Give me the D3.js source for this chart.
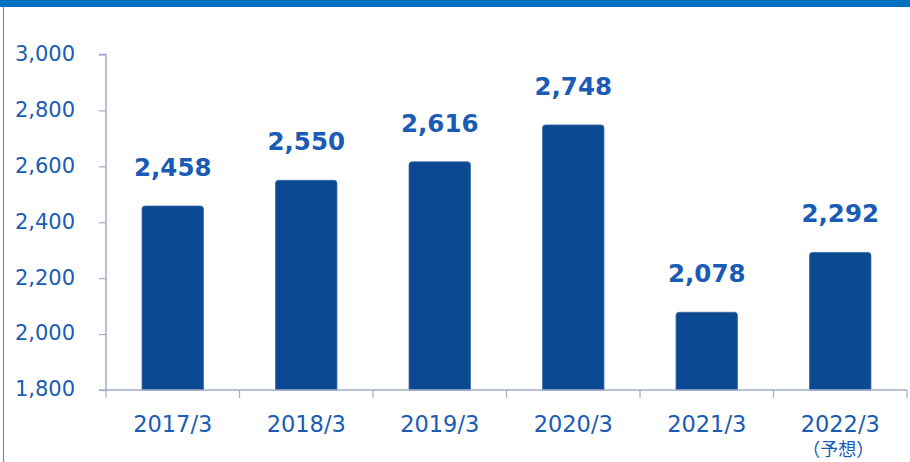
<!DOCTYPE html>
<html>
<head>
<meta charset="utf-8">
<script src="https://cdn.jsdelivr.net/npm/d3@7"></script>
<style>
  html, body { margin: 0; padding: 0; background: #fff; }
  svg { display: block; }
</style>
</head>
<body>
<svg id="chart" width="910" height="462"></svg>
<script>
// Fiscal years (March year-end) and their values
const categories = ["2017/3", "2018/3", "2019/3", "2020/3", "2021/3", "2022/3"];
const values = [2458, 2550, 2616, 2748, 2078, 2292];
const yTicks = [1800, 2000, 2200, 2400, 2600, 2800, 3000];
const forecastNote = "（予想）";

const W = 910, H = 462;
const svg = d3.select("#chart");

const textBlue = "#1a5cb4";
const barBlue = "#0b4a93";
const axisGrey = "#a3abc9";
const font = "'DejaVu Sans', Verdana, sans-serif";

// Frame: blue header strip and thin left border
svg.append("rect").attr("x", 0).attr("y", 0).attr("width", W).attr("height", 7).attr("fill", "#0070c0");
svg.append("line").attr("x1", 3.5).attr("x2", 3.5).attr("y1", 7).attr("y2", H)
  .attr("stroke", "#5b9bd5").attr("stroke-width", 1.2);

const x = d3.scaleBand().domain(categories).range([106, 907]).paddingInner(0.54).paddingOuter(0.27);
const y = d3.scaleLinear().domain([1800, 3000]).range([390, 54.5]);

// Y axis
const yAxis = svg.append("g").attr("transform", "translate(106,0)")
  .call(d3.axisLeft(y).tickValues(yTicks).tickSize(7).tickPadding(24).tickFormat(d3.format(",")));
yAxis.select(".domain").attr("stroke", axisGrey).attr("stroke-width", 1.5)
  .attr("d", `M-7,${y(3000)}H0V${y(1800)}`);
yAxis.selectAll(".tick line").attr("stroke", axisGrey).attr("stroke-width", 1.2);
yAxis.selectAll(".tick text")
  .attr("fill", textBlue).attr("font-family", font)
  .attr("font-size", 21).attr("dy", "0.28em");

// Bars with slightly rounded top corners
const r = 3;
svg.append("g").selectAll("path").data(values).join("path")
  .attr("d", (d, i) => {
    const x0 = x(categories[i]), w = x.bandwidth();
    const yt = y(d), yb = y(1800);
    return `M${x0},${yb}V${yt + r}Q${x0},${yt} ${x0 + r},${yt}H${x0 + w - r}Q${x0 + w},${yt} ${x0 + w},${yt + r}V${yb}Z`;
  })
  .attr("fill", barBlue).attr("stroke", "#3a66a6").attr("stroke-width", 0.8);

// X axis with boundary ticks between categories
const xg = svg.append("g");
xg.append("line").attr("x1", 99).attr("x2", 907).attr("y1", y(1800)).attr("y2", y(1800))
  .attr("stroke", axisGrey).attr("stroke-width", 1.5);
d3.range(categories.length + 1).forEach(k => {
  const xx = 106 + k * x.step();
  xg.append("line").attr("x1", xx).attr("x2", xx).attr("y1", y(1800)).attr("y2", y(1800) + 8)
    .attr("stroke", axisGrey).attr("stroke-width", 1.2);
});
xg.selectAll("text.cat").data(categories).join("text").attr("class", "cat")
  .attr("x", d => x(d) + x.bandwidth() / 2).attr("y", 432)
  .attr("text-anchor", "middle").attr("fill", textBlue)
  .attr("font-family", font).attr("font-size", 22.5)
  .text(d => d);
xg.append("text")
  .attr("x", x(categories[5]) + x.bandwidth() / 2 - 2).attr("y", 456)
  .attr("text-anchor", "middle").attr("fill", textBlue)
  .attr("font-family", "'Noto Sans CJK JP', sans-serif").attr("font-size", 18)
  .text(forecastNote);

// Value labels
svg.append("g").selectAll("text").data(values).join("text")
  .attr("x", (d, i) => x(categories[i]) + x.bandwidth() / 2)
  .attr("y", d => y(d) - 30)
  .attr("text-anchor", "middle").attr("fill", textBlue)
  .attr("font-family", font).attr("font-weight", "bold")
  .attr("font-size", 24.5)
  .text(d => d3.format(",")(d));
</script>
</body>
</html>
